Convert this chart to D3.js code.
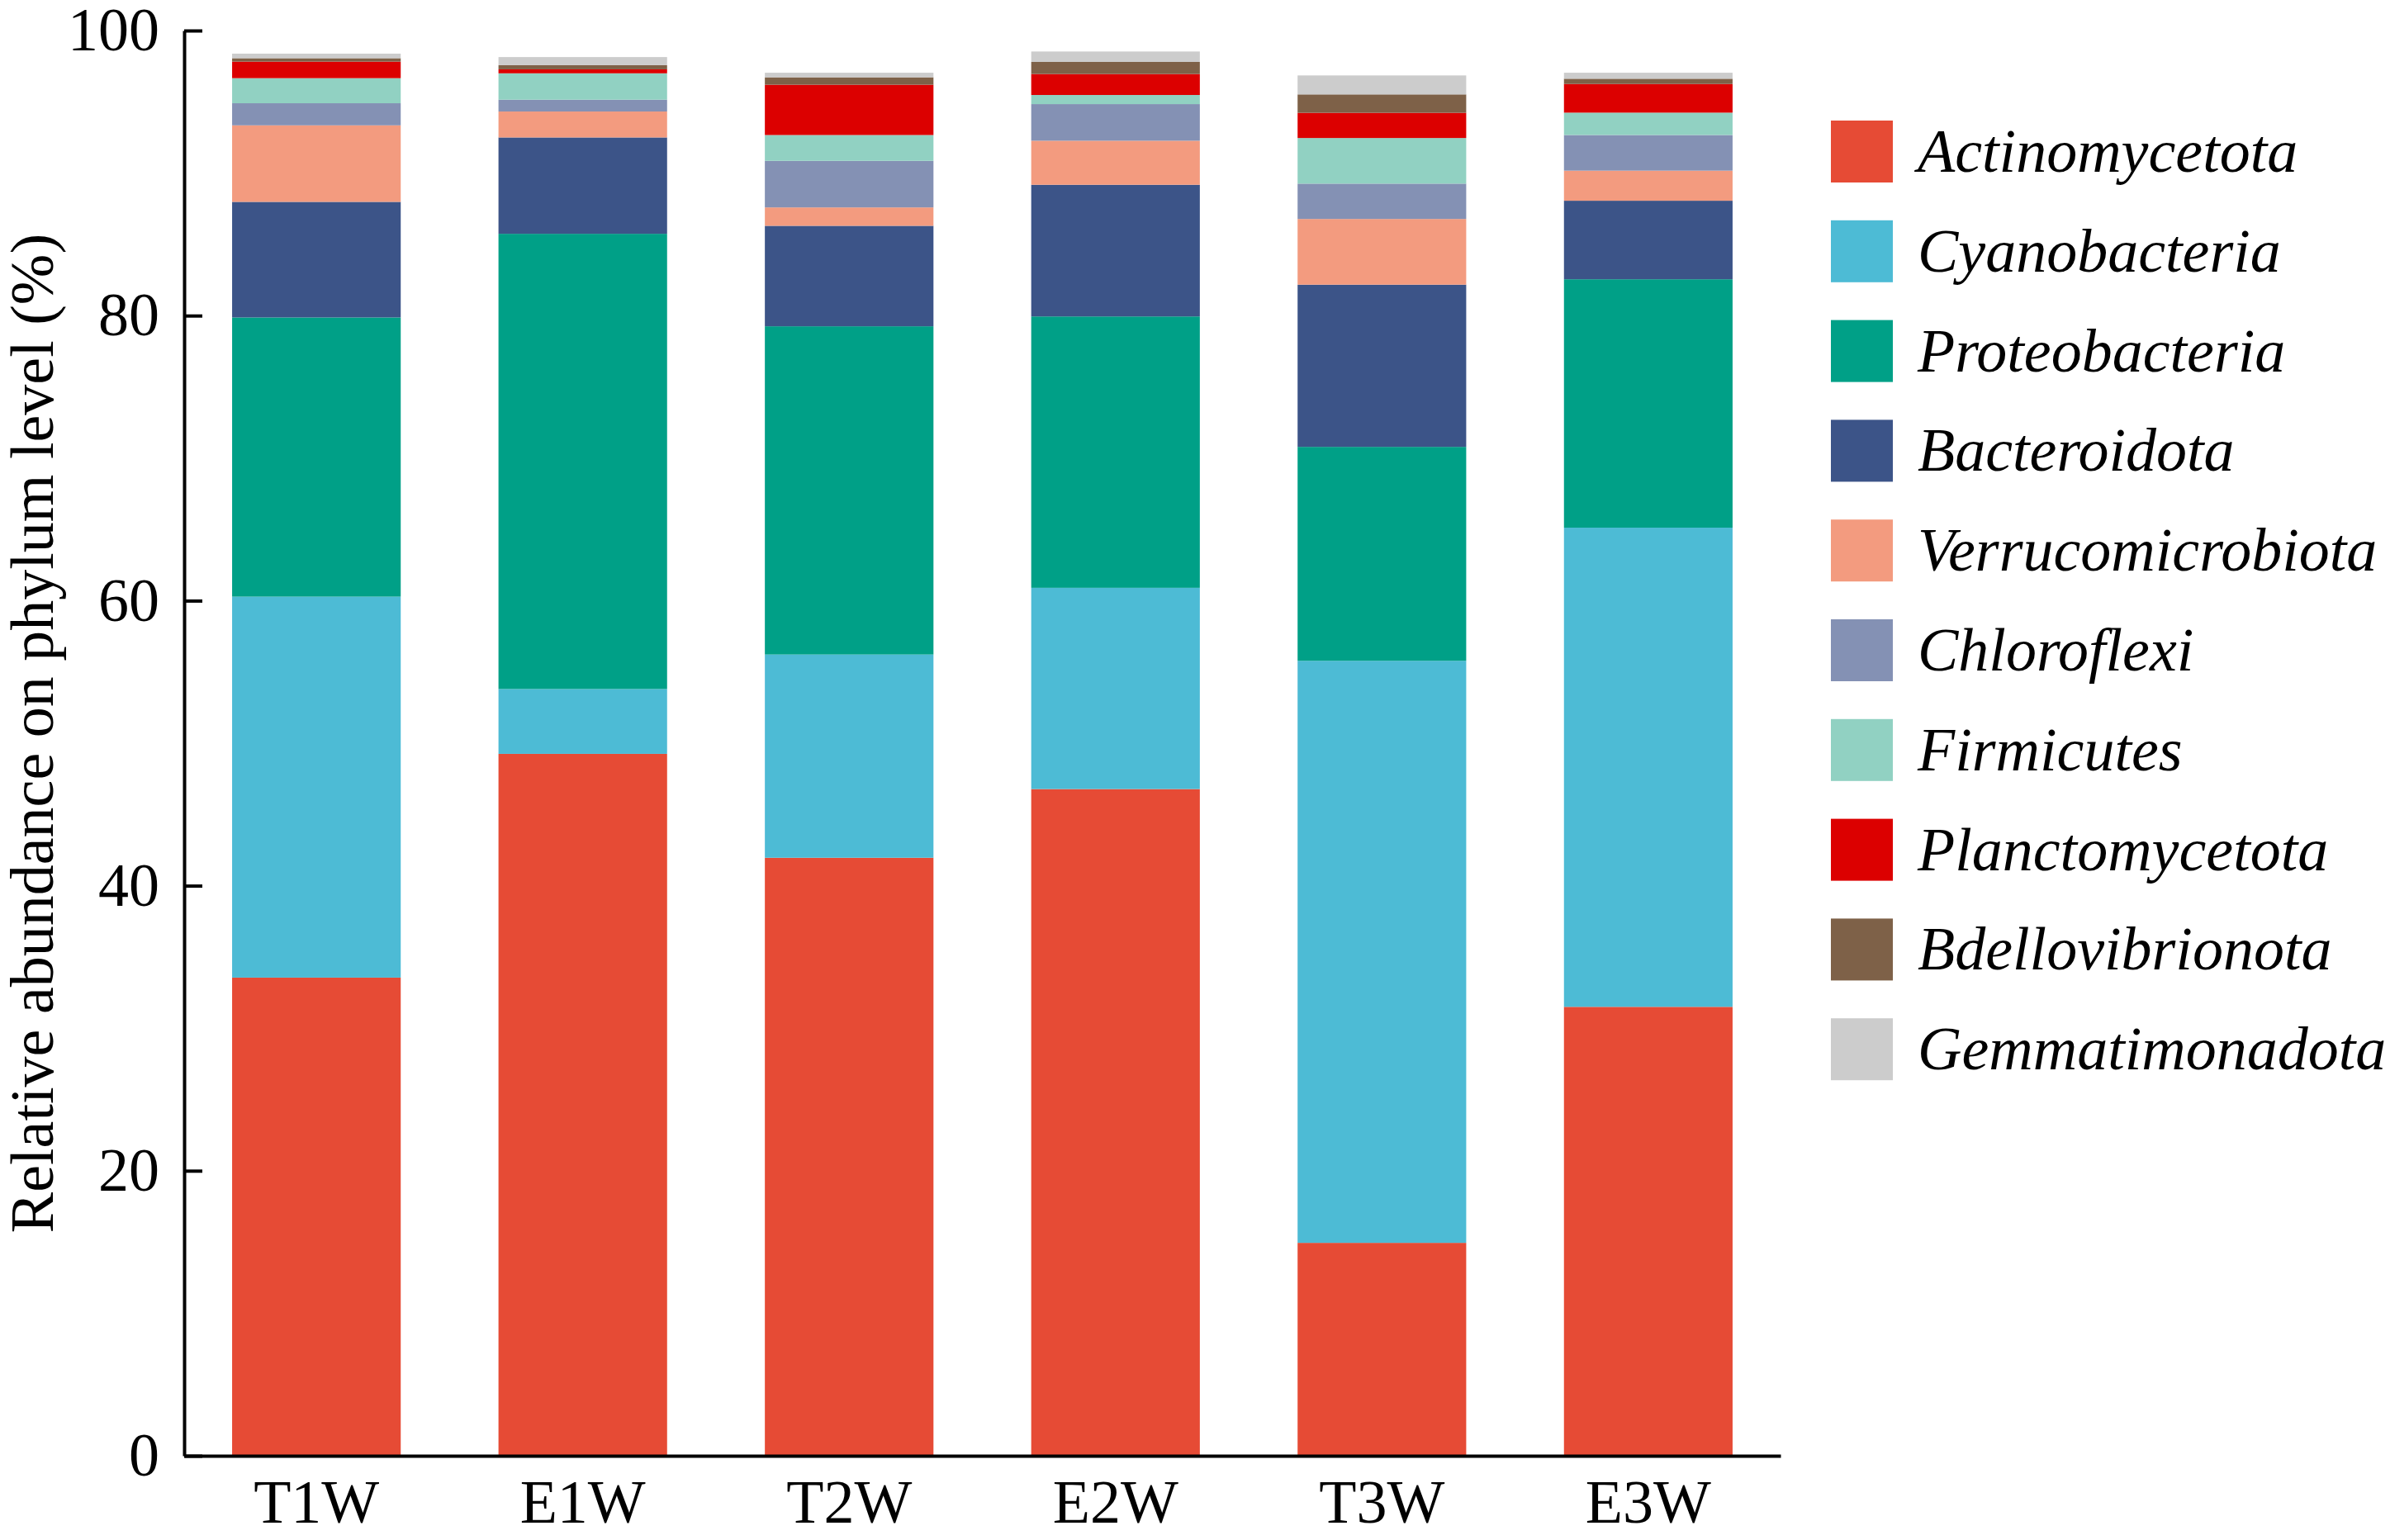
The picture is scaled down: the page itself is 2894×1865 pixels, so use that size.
<!DOCTYPE html>
<html>
<head>
<meta charset="utf-8">
<script src="https://cdn.jsdelivr.net/npm/d3@7"></script>
<style>
  body { margin: 0; background: #fff; }
  svg { display: block; }
  text { font-family: 'Liberation Serif', Tinos, 'Times New Roman', Times, 'DejaVu Serif', serif; }
  .axis path, .axis line { stroke: #000; stroke-width: 4; }
  .axis text { font-size: 74px; fill: #000; }
</style>
</head>
<body>
<svg></svg>
<script>
const width = 2894, height = 1865;
const serif = "'Liberation Serif', Tinos, 'Times New Roman', Times, 'DejaVu Serif', serif";

// samples along x
const samples = ["T1W", "E1W", "T2W", "E2W", "T3W", "E3W"];

// phyla, bottom to top of each stack
const phyla = ["Actinomycetota", "Cyanobacteria", "Proteobacteria", "Bacteroidota",
  "Verrucomicrobiota", "Chloroflexi", "Firmicutes", "Planctomycetota",
  "Bdellovibrionota", "Gemmatimonadota"];

const colors = ["#E64B35", "#4DBBD5", "#00A087", "#3C5488", "#F39B7F",
  "#8491B4", "#91D1C2", "#DC0000", "#7E6148", "#CCCCCC"];

// relative abundance (%), one array per phylum, in sample order
const actinomycetota    = [33.55, 49.25, 41.96, 46.78, 14.94, 31.50];
const cyanobacteria     = [26.73,  4.55, 14.26, 14.12, 40.84, 33.62];
const proteobacteria    = [19.59, 31.94, 23.03, 19.04, 15.01, 17.43];
const bacteroidota      = [ 8.11,  6.76,  7.05,  9.24, 11.38,  5.51];
const verrucomicrobiota = [ 5.37,  1.82,  1.29,  3.09,  4.61,  2.11];
const chloroflexi       = [ 1.55,  0.83,  3.27,  2.57,  2.48,  2.50];
const firmicutes        = [ 1.76,  1.85,  1.81,  0.64,  3.20,  1.57];
const planctomycetota   = [ 1.16,  0.28,  3.53,  1.47,  1.77,  2.01];
const bdellovibrionota  = [ 0.24,  0.29,  0.52,  0.85,  1.29,  0.37];
const gemmatimonadota   = [ 0.32,  0.57,  0.32,  0.73,  1.33,  0.42];

const yTicks = [0, 20, 40, 60, 80, 100];

const series = [actinomycetota, cyanobacteria, proteobacteria, bacteroidota,
  verrucomicrobiota, chloroflexi, firmicutes, planctomycetota,
  bdellovibrionota, gemmatimonadota];

const table = samples.map((s, i) => {
  const row = { sample: s };
  phyla.forEach((p, j) => row[p] = series[j][i]);
  return row;
});

const svg = d3.select("svg")
  .attr("width", width)
  .attr("height", height);

const x0 = 223, x1 = 2156, yTop = 37, yBottom = 1763;

const xScale = d3.scaleBand().domain(samples).range([x0, x1])
  .paddingInner(0.367).paddingOuter(0.18);
const yScale = d3.scaleLinear().domain([0, 100]).range([yBottom, yTop]);
const color = d3.scaleOrdinal().domain(phyla).range(colors);

const stacked = d3.stack().keys(phyla)(table);

svg.append("g")
  .selectAll("g")
  .data(stacked)
  .enter().append("g")
  .attr("fill", d => color(d.key))
  .selectAll("rect")
  .data(d => d)
  .enter().append("rect")
  .attr("x", d => xScale(d.data.sample))
  .attr("width", xScale.bandwidth())
  .attr("y", d => yScale(d[1]))
  .attr("height", d => yScale(d[0]) - yScale(d[1]));

// axes
const yAxis = svg.append("g")
  .attr("class", "axis")
  .attr("transform", `translate(${x0},0)`)
  .call(d3.axisLeft(yScale).tickValues(yTicks).tickSize(-22).tickSizeOuter(0).tickPadding(30));

const xAxis = svg.append("g")
  .attr("class", "axis")
  .attr("transform", `translate(0,${yBottom})`)
  .call(d3.axisBottom(xScale).tickSize(0).tickPadding(28));

yAxis.attr("font-family", serif).attr("font-size", 74);
xAxis.attr("font-family", serif).attr("font-size", 74);

svg.append("text")
  .attr("transform", "translate(64,888) rotate(-90)")
  .attr("text-anchor", "middle")
  .attr("font-family", serif)
  .attr("font-size", 74)
  .text("Relative abundance on phylum level (%)");

// legend
const legend = svg.append("g")
  .attr("transform", "translate(2217,146)");

const item = legend.selectAll("g")
  .data(phyla)
  .enter().append("g")
  .attr("transform", (d, i) => `translate(0,${i * 120.8})`);

item.append("rect")
  .attr("width", 75)
  .attr("height", 75)
  .attr("fill", d => color(d));

item.append("text")
  .attr("x", 105)
  .attr("y", 37.5)
  .attr("dy", "0.33em")
  .attr("font-family", serif)
  .attr("font-size", 74)
  .attr("font-style", "italic")
  .text(d => d);
</script>
</body>
</html>
